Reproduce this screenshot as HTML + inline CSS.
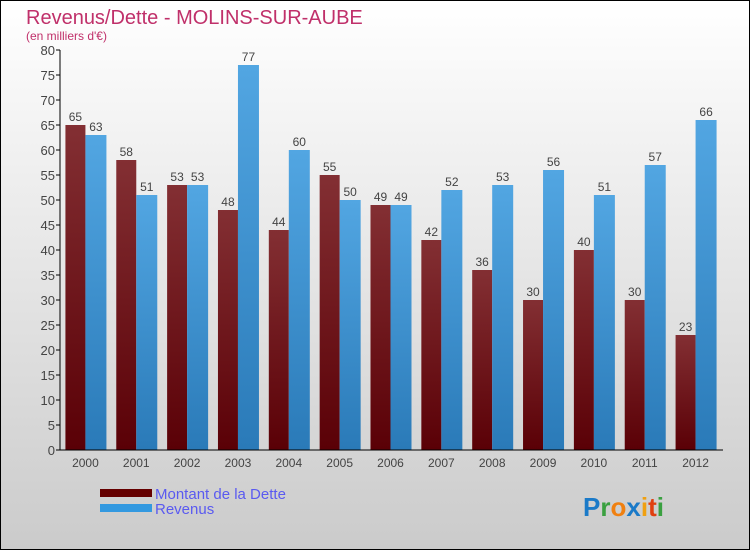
<!DOCTYPE html>
<html><head><meta charset="utf-8"><style>
body{margin:0}
#wrap{position:relative;width:750px;height:550px;box-sizing:border-box;border:1px solid #000;background:linear-gradient(#fff,#cbcbcb);font-family:"Liberation Sans",sans-serif;overflow:hidden}
</style></head><body>
<div id="wrap">
<svg id="c" width="750" height="550" style="position:absolute;left:-1px;top:-1px">
<defs>
<linearGradient id="gd" x1="0" y1="0" x2="0" y2="1"><stop offset="0" stop-color="#832f33"/><stop offset="1" stop-color="#5a0006"/></linearGradient>
<linearGradient id="gr" x1="0" y1="0" x2="0" y2="1"><stop offset="0" stop-color="#52a6e2"/><stop offset="1" stop-color="#2a7ab8"/></linearGradient>
</defs>
<text x="26" y="24" font-size="20" fill="#c0306a">Revenus/Dette - MOLINS-SUR-AUBE</text>
<text x="26" y="40" font-size="12" fill="#c0306a">(en milliers d'€)</text>
<g id="plot"></g>
<rect x="100" y="489" width="52" height="8" fill="#650000"/>
<text x="155" y="499" font-size="15" fill="#5a5af0">Montant de la Dette</text>
<rect x="100" y="504" width="52" height="8" fill="#3399e0"/>
<text x="155" y="514" font-size="15" fill="#5a5af0">Revenus</text>
<text x="583" y="516" font-size="26" font-weight="bold"><tspan fill="#1a7ac8">P</tspan><tspan fill="#3aa040">r</tspan><tspan fill="#f08010">o</tspan><tspan fill="#1a7ac8">x</tspan><tspan fill="#f0a010">i</tspan><tspan fill="#e04010">t</tspan><tspan fill="#3aa040">i</tspan></text>
</svg>
</div>
<script>
const years=["2000","2001","2002","2003","2004","2005","2006","2007","2008","2009","2010","2011","2012"];
const dette=[65,58,53,48,44,55,49,42,36,30,40,30,23];
const revenus=[63,51,53,77,60,50,49,52,53,56,51,57,66];
const yTicks=[0,5,10,15,20,25,30,35,40,45,50,55,60,65,70,75,80];
const NS="http://www.w3.org/2000/svg";
const g=document.getElementById('plot');
const x0=60,x1=721,y0=450,ymax=80,ph=400;
const band=(x1-x0)/years.length;
const y=v=>y0-v/ymax*ph;
const cx=i=>x0+band*(i+0.5);
function el(t,a){const e=document.createElementNS(NS,t);for(const k in a)e.setAttribute(k,a[k]);g.appendChild(e);return e;}
yTicks.forEach(t=>{
const l=el('line',{x1:x0-4,x2:x0,y1:y(t),y2:y(t),stroke:'#000'});


const tx=el('text',{x:x0-5,y:y(t)+5,'font-size':13,fill:'#444','text-anchor':'end'});
tx.textContent=t;


});
years.forEach((yr,i)=>{
const c=cx(i);
const b1=el('rect',{x:c-20,y:y(dette[i]),width:20,height:y0-y(dette[i]),fill:'url(#gd)'});


const b2=el('rect',{x:c,y:y(revenus[i]),width:21,height:y0-y(revenus[i]),fill:'url(#gr)'});


const v1=el('text',{x:c-10,y:y(dette[i])-4,'font-size':12,fill:'#444','text-anchor':'middle'});
v1.textContent=dette[i];


const v2=el('text',{x:c+10.5,y:y(revenus[i])-4,'font-size':12,fill:'#444','text-anchor':'middle'});
v2.textContent=revenus[i];


const xl=el('text',{x:c,y:467,'font-size':12,fill:'#444','text-anchor':'middle'});
xl.textContent=yr;


});
const ya=el('line',{x1:x0,x2:x0,y1:y(80),y2:y0,stroke:'#000'});


const xa=el('line',{x1:x0,x2:x1+2,y1:y0,y2:y0,stroke:'#000'});


</script>
</body></html>
